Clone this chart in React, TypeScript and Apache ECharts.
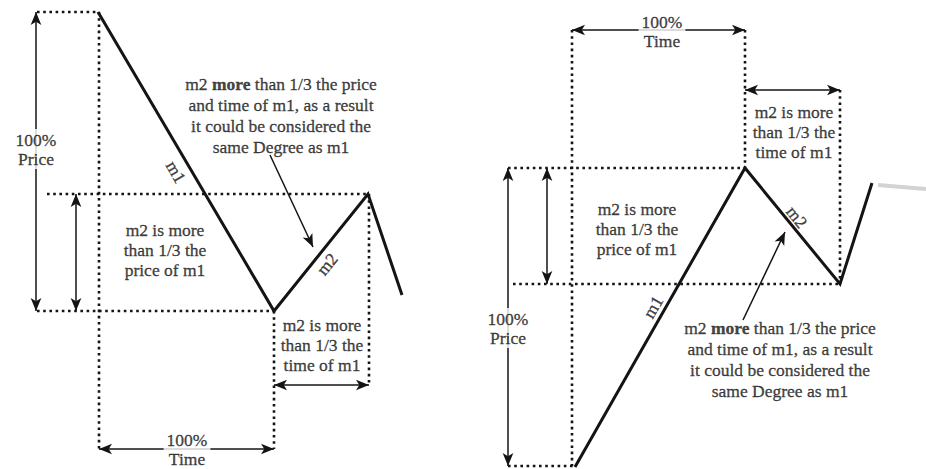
import React, { useEffect, useRef } from "react";
import * as echarts from "echarts";

const W = 926;
const H = 469;

// Wave paths (diagram units = pixels of the original figure)
const leftWave: number[][] = [[98, 12], [274, 311], [368, 194], [402, 295]];
const rightWave: number[][] = [[575, 467], [745, 168], [840, 284], [872, 183]];
const smudge: number[][] = [[878, 185], [926, 189]];

// Dotted guide segments
const guideSegments: number[][][] = [
  [[37, 12], [98, 12]],
  [[99, 12], [99, 449]],
  [[47, 194], [368, 194]],
  [[37, 311], [274, 311]],
  [[274, 311], [274, 449]],
  [[369, 194], [369, 385]],
  [[508, 168], [745, 168]],
  [[513, 284], [840, 284]],
  [[508, 466], [575, 466]],
  [[572, 30], [572, 466]],
  [[745, 30], [745, 168]],
  [[840, 90], [840, 284]],
];

// Arrows with heads at both ends
const doubleArrows: number[][][] = [
  [[36, 12], [36, 311]],
  [[76, 194], [76, 311]],
  [[274, 385], [369, 385]],
  [[99, 449], [274, 449]],
  [[572, 30], [745, 30]],
  [[745, 90], [840, 90]],
  [[508, 168], [508, 466]],
  [[547, 168], [547, 284]],
];

// Arrows with a head at the end only
const singleArrows: number[][][] = [
  [[270, 155], [313, 247]],
  [[743, 320], [785, 232]],
];

const noteText =
  "{r|m2 }{b|more}{r| than 1/3 the price}\n{r|and time of m1, as a result}\n{r|it could be considered the}\n{r|same Degree as m1}";
const priceNote = "m2 is more\nthan 1/3 the\nprice of m1";
const timeNote = "m2 is more\nthan 1/3 the\ntime of m1";
const pctPrice = "100%\nPrice";
const pctTime = "100%\nTime";

type Label = { pos: number[]; text: string; lh: number; rotate?: number; mask?: boolean };
const labels: Label[] = [
  { pos: [36, 149], text: pctPrice, lh: 19, mask: true },
  { pos: [165, 250], text: priceNote, lh: 20 },
  { pos: [281, 115], text: noteText, lh: 21 },
  { pos: [322, 345], text: timeNote, lh: 20 },
  { pos: [187, 449], text: pctTime, lh: 19, mask: true },
  { pos: [176, 172], text: "m1", lh: 17, rotate: -60 },
  { pos: [327, 264], text: "m2", lh: 17, rotate: 51 },
  { pos: [662, 31], text: pctTime, lh: 19, mask: true },
  { pos: [794, 132], text: timeNote, lh: 20 },
  { pos: [637, 229], text: priceNote, lh: 20 },
  { pos: [508, 328], text: pctPrice, lh: 19, mask: true },
  { pos: [780, 359], text: noteText, lh: 21 },
  { pos: [653, 307], text: "m1", lh: 17, rotate: 60 },
  { pos: [797, 217], text: "m2", lh: 17, rotate: -51 },
];

const FONT = "'Liberation Serif', 'DejaVu Serif', serif";
const INK = "#141414";
const FS = 17.5;

export default function App() {
  const ref = useRef<HTMLDivElement>(null);

  useEffect(() => {
    if (!ref.current) return;
    const chart = echarts.init(ref.current, null, { renderer: "svg" });

    const series: any[] = [];

    guideSegments.forEach((seg) => {
      series.push({
        type: "line",
        data: seg,
        symbol: "none",
        silent: true,
        z: 2,
        lineStyle: { color: INK, width: 2.6, type: [2.6, 3.6], cap: "butt" },
      });
    });

    [leftWave, rightWave].forEach((w) => {
      series.push({
        type: "line",
        data: w,
        symbol: "none",
        silent: true,
        z: 3,
        lineStyle: { color: INK, width: 3, join: "miter" },
      });
    });

    series.push({
      type: "line",
      data: smudge,
      symbol: "none",
      silent: true,
      z: 1,
      lineStyle: { color: "#b5b5b5", width: 4, opacity: 0.6 },
    });

    const mlData: any[] = [];
    doubleArrows.forEach((s) => {
      mlData.push([
        { coord: s[0], symbol: "arrow" },
        { coord: s[1], symbol: "arrow" },
      ]);
    });
    singleArrows.forEach((s) => {
      mlData.push([
        { coord: s[0], symbol: "none" },
        { coord: s[1], symbol: "arrow" },
      ]);
    });

    series.push({
      type: "line",
      data: [],
      symbol: "none",
      silent: true,
      z: 4,
      markLine: {
        silent: true,
        symbol: ["arrow", "arrow"],
        symbolSize: [8, 13],
        label: { show: false },
        lineStyle: { color: INK, width: 1.5, type: "solid" },
        emphasis: { disabled: true },
        data: mlData,
      },
    });

    const textBase = {
      fontFamily: FONT,
      fontSize: FS,
      color: INK,
      textBorderColor: INK,
      textBorderWidth: 0.35,
    };

    series.push({
      type: "scatter",
      silent: true,
      z: 6,
      symbolSize: 1,
      itemStyle: { color: "rgba(0,0,0,0)" },
      data: labels.map((l) => ({
        value: l.pos,
        label: {
          show: true,
          position: "inside",
          formatter: l.text,
          rotate: l.rotate || 0,
          ...textBase,
          lineHeight: l.lh,
          align: "center",
          verticalAlign: "middle",
          backgroundColor: l.mask ? "#ffffff" : "transparent",
          padding: l.mask ? [1, 3] : 0,
          rich: {
            r: { ...textBase, lineHeight: l.lh, align: "center" },
            b: { ...textBase, fontWeight: "bold", lineHeight: l.lh, align: "center" },
          },
        },
      })),
    });

    chart.setOption({
      animation: false,
      backgroundColor: "#ffffff",
      grid: { left: 0, right: 0, top: 0, bottom: 0 },
      xAxis: { type: "value", min: 0, max: W, show: false },
      yAxis: { type: "value", min: 0, max: H, inverse: true, show: false },
      series,
    });

    return () => chart.dispose();
  }, []);

  return (
    <div
      ref={ref}
      style={{ position: "fixed", left: 0, top: 0, width: W, height: H, background: "#fff" }}
    />
  );
}
